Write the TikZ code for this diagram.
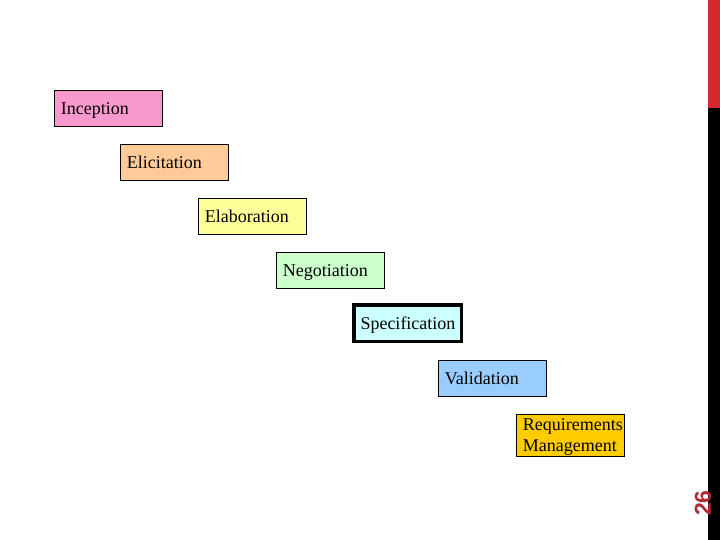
\documentclass[tikz,border=0pt]{standalone}
\usepackage{fontspec}
\setmainfont{Liberation Serif}
\setsansfont{Liberation Sans}
\definecolor{inceptpink}{HTML}{F799CC}
\definecolor{elicitorange}{HTML}{FFCC99}
\definecolor{elabyellow}{HTML}{FFFF99}
\definecolor{negogreen}{HTML}{CCFFCC}
\definecolor{speccyan}{HTML}{CCFFFF}
\definecolor{validblue}{HTML}{99CCFF}
\definecolor{mgmtgold}{HTML}{FFCC00}
\definecolor{barred}{HTML}{D6282E}
\definecolor{numred}{HTML}{B02A36}
\tikzset{stage/.style={draw=black,line width=0.8pt,anchor=north west,minimum width=108pt,minimum height=36pt,
  text width=95pt,inner xsep=6pt,inner ysep=0pt,align=left,font=\fontsize{18}{21}\selectfont},
  oneline/.style={text height=16pt,text depth=4pt}}
\begin{document}
\begin{tikzpicture}[x=1pt,y=-1pt]
\useasboundingbox (0,0) rectangle (720,540);
% side bar
\fill[barred] (708,0) rectangle (720,108);
\fill[black] (708,108) rectangle (720,540);
\node[rotate=90,text=numred,font=\sffamily\bfseries\fontsize{23}{23}\selectfont] (pagenum) at (703,503) {26};
% stages
\node[stage,oneline,fill=inceptpink] (incept) at (54,90) {Inception};
\node[stage,oneline,fill=elicitorange] (elicit) at (120,144) {Elicitation};
\node[stage,oneline,fill=elabyellow] (elab) at (198,198) {Elaboration};
\node[stage,oneline,fill=negogreen] (nego) at (276,252) {Negotiation};
\node[stage,oneline,fill=speccyan,line width=3.5pt,minimum width=107.5pt,minimum height=36.5pt,inner xsep=6.5pt,text width=94pt] (spec) at (352,303) {Specification};
\node[stage,oneline,fill=validblue] (valid) at (438,360) {Validation};
\node[stage,fill=mgmtgold,minimum height=42pt,text height=16pt,text depth=25pt] (mgmt) at (516,414) {Requirements\\Management};
\end{tikzpicture}
\end{document}
